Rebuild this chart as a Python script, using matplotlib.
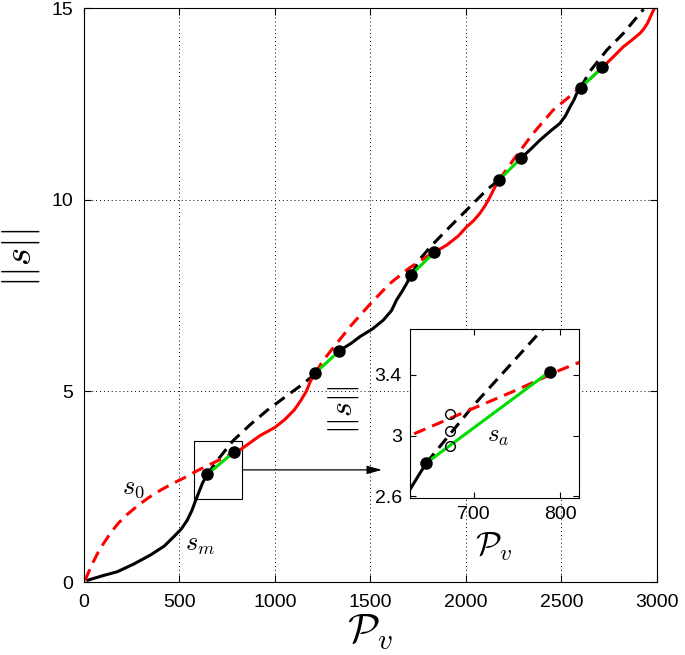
import numpy as np
import matplotlib
matplotlib.use('Agg')
import matplotlib.pyplot as plt
from matplotlib.patches import Rectangle

plt.rcParams['font.family'] = ['Liberation Sans', 'DejaVu Sans']
plt.rcParams['mathtext.fontset'] = 'cm'

# s_m and its continuation (black)
sm_x = [20, 100, 174, 260, 349, 420, 471, 510, 541, 565, 585, 605, 620, 634, 645]
sm_y = [0.06, 0.18, 0.28, 0.48, 0.72, 0.95, 1.20, 1.40, 1.63, 1.88, 2.15, 2.40, 2.59, 2.72, 2.82]
black_dash1_x = [645, 700, 780, 870, 960, 1060, 1140, 1209]
black_dash1_y = [2.82, 3.20, 3.70, 4.12, 4.50, 4.87, 5.16, 5.44]
black_solid2_x = [1337, 1400, 1445, 1510, 1567, 1610, 1637, 1665, 1690, 1712]
black_solid2_y = [6.05, 6.25, 6.42, 6.62, 6.85, 7.10, 7.38, 7.60, 7.81, 8.03]
black_dash2_x = [1712, 1760, 1820, 1916, 2004, 2108, 2173]
black_dash2_y = [8.03, 8.45, 8.80, 9.29, 9.73, 10.25, 10.51]
black_solid3_x = [2288, 2340, 2387, 2440, 2492, 2520, 2545, 2565, 2580, 2600]
black_solid3_y = [11.08, 11.32, 11.55, 11.78, 11.99, 12.18, 12.42, 12.60, 12.77, 12.92]
black_dash3_x = [2600, 2649, 2737, 2824, 2911, 2930]
black_dash3_y = [12.92, 13.35, 13.90, 14.34, 14.86, 14.97]

# s_0 and its continuation (red)
s0_x = [5, 40, 70, 100, 140, 180, 227, 280, 331, 380, 419, 470, 524, 560, 593, 626,
        663, 700, 750, 800, 822]
s0_y = [0.05, 0.45, 0.75, 1.00, 1.30, 1.55, 1.78, 2.00, 2.19, 2.35, 2.46, 2.60, 2.73,
        2.83, 2.92, 3.00, 3.09, 3.18, 3.30, 3.43, 3.48]
red_solid1_x = [822, 870, 920, 1000, 1050, 1100, 1135, 1165, 1185, 1209]
red_solid1_y = [3.48, 3.65, 3.83, 4.05, 4.25, 4.50, 4.75, 5.00, 5.25, 5.46]
red_dash2_x = [1209, 1250, 1300, 1400, 1500, 1600, 1700, 1794, 1834]
red_dash2_y = [5.46, 5.78, 6.10, 6.72, 7.28, 7.80, 8.20, 8.51, 8.62]
red_solid2_x = [1834, 1899, 1960, 2004, 2040, 2073, 2100, 2126, 2161, 2173]
red_solid2_y = [8.62, 8.81, 9.05, 9.29, 9.45, 9.64, 9.84, 10.07, 10.42, 10.51]
red_dash3_x = [2173, 2250, 2352, 2457, 2562, 2650, 2714]
red_dash3_y = [10.51, 11.05, 11.73, 12.34, 12.77, 13.15, 13.45]
red_solid3_x = [2714, 2770, 2824, 2870, 2911, 2930, 2950, 2970, 2990]
red_solid3_y = [13.45, 13.72, 13.99, 14.17, 14.34, 14.45, 14.60, 14.82, 15.03]

# switching points and the s_a segments between them (green)
dot_x = [645, 788, 1209, 1337, 1712, 1834, 2173, 2288, 2600, 2714]
dot_y = [2.82, 3.42, 5.46, 6.05, 8.03, 8.62, 10.51, 11.08, 12.92, 13.45]

# open circles in the zoom
circ_x = [673, 673, 673]
circ_y = [2.93, 3.03, 3.14]

LW = 2.2
DASH = (4, 2.4)


def draw_curves(ax, ms):
    ax.plot(sm_x, sm_y, color='k', lw=LW)
    ax.plot(black_solid2_x, black_solid2_y, color='k', lw=LW)
    ax.plot(black_solid3_x, black_solid3_y, color='k', lw=LW)
    for xs, ys in [(black_dash1_x, black_dash1_y), (black_dash2_x, black_dash2_y),
                   (black_dash3_x, black_dash3_y)]:
        ax.plot(xs, ys, color='k', lw=LW, dashes=DASH)
    ax.plot(s0_x, s0_y, color='r', lw=LW, dashes=DASH)
    ax.plot(red_dash2_x, red_dash2_y, color='r', lw=LW, dashes=DASH)
    ax.plot(red_dash3_x, red_dash3_y, color='r', lw=LW, dashes=DASH)
    for xs, ys in [(red_solid1_x, red_solid1_y), (red_solid2_x, red_solid2_y),
                   (red_solid3_x, red_solid3_y)]:
        ax.plot(xs, ys, color='r', lw=LW)
    for i in range(0, len(dot_x), 2):
        ax.plot(dot_x[i:i + 2], dot_y[i:i + 2], color='#00dd00', lw=LW)
    ax.plot(dot_x, dot_y, 'o', color='k', ms=ms, ls='none')


fig = plt.figure(figsize=(6.85, 6.55), dpi=100)
ax = fig.add_axes([0.1226, 0.1107, 0.8365, 0.877])
draw_curves(ax, 8)

ax.set_xlim(0, 3000)
ax.set_ylim(0, 15)
ax.set_xticks([0, 500, 1000, 1500, 2000, 2500, 3000])
ax.set_yticks([0, 5, 10, 15])
ax.grid(True, ls=(0, (1, 3)), color='k', lw=0.7)
ax.tick_params(direction='in', top=True, right=True, labelsize=14, pad=8, length=5)
ax.text(257, 2.47, r'$s_0$', fontsize=19, ha='center', va='center')
ax.text(607, 0.98, r'$s_m$', fontsize=19, ha='center', va='center')

ax.add_patch(Rectangle((578, 2.19), 251, 1.50, fill=False, ec='k', lw=0.8))
ax.annotate('', xy=(1560, 2.94), xytext=(829, 2.94),
            arrowprops=dict(arrowstyle='-|>,head_length=0.9,head_width=0.25',
                            color='k', lw=0.9, shrinkA=0, shrinkB=0))

fig.text(0.540, 0.035, r'$\mathcal{P}_v$', fontsize=30, ha='center', va='center')
fig.text(0.0307, 0.607, r'$||s||$', fontsize=28, ha='center', va='center', rotation=90)

# zoom on the first switch
axi = fig.add_axes([0.5985, 0.2397, 0.2467, 0.258])
draw_curves(axi, 8)
axi.plot(circ_x, circ_y, 'o', mfc='none', mec='k', ms=7, mew=1)
axi.set_xlim(626, 822)
axi.set_ylim(2.59, 3.70)
axi.set_xticks([700, 800])
axi.set_yticks([2.6, 3.0, 3.4])
axi.set_yticklabels(['2.6', '3', '3.4'])
axi.tick_params(direction='in', top=True, right=True, labelsize=14, pad=6, length=4)
axi.text(728, 3.0, r'$s_a$', fontsize=18, ha='center', va='center')
fig.text(0.721, 0.165, r'$\mathcal{P}_v$', fontsize=24, ha='center', va='center')
fig.text(0.502, 0.374, r'$||s||$', fontsize=23, ha='center', va='center', rotation=90)

fig.savefig('out.png', dpi=100)
